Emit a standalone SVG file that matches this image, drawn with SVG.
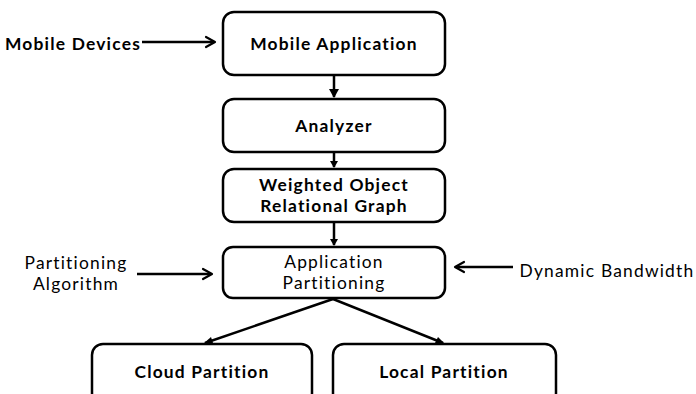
<svg xmlns="http://www.w3.org/2000/svg" width="696" height="394" viewBox="0 0 696 394">
<style>
.box{fill:#fff;stroke:#000;stroke-width:2.5}
.t{font-family:Lato,"Liberation Sans",sans-serif;font-size:17.4px;fill:#000;text-anchor:middle;letter-spacing:1.2px}
.b{font-weight:bold}
.ln{stroke:#000;stroke-width:2.5;fill:none}
.hd{stroke:#000;stroke-width:2.2;fill:none;stroke-linecap:round;stroke-linejoin:round}
</style>
<rect width="696" height="394" fill="#fff"/>
<g id="mobile-devices"><text class="t b" x="73" y="50">Mobile Devices</text></g>
<g id="mobile-application"><rect class="box" x="223" y="12" width="222" height="63" rx="11"/><text class="t b" x="334" y="50">Mobile Application</text></g>
<g id="analyzer"><rect class="box" x="223" y="99" width="222" height="53" rx="11"/><text class="t b" x="334" y="132">Analyzer</text></g>
<g id="worg"><rect class="box" x="223" y="169" width="222" height="53" rx="11"/><text class="t b" x="334" y="191">Weighted Object</text><text class="t b" x="334" y="212">Relational Graph</text></g>
<g id="partitioning-algorithm"><text class="t" x="76" y="269">Partitioning</text><text class="t" x="76" y="290">Algorithm</text></g>
<g id="application-partitioning"><rect class="box" x="223" y="247" width="222" height="51" rx="10"/><text class="t" x="334" y="268">Application</text><text class="t" x="334" y="289">Partitioning</text></g>
<g id="dynamic-bandwidth"><text class="t" x="607" y="277">Dynamic Bandwidth</text></g>
<g id="cloud-partition"><rect class="box" x="92" y="344" width="220" height="60" rx="11"/><text class="t b" x="202" y="378">Cloud Partition</text></g>
<g id="local-partition"><rect class="box" x="333" y="344" width="223" height="60" rx="11"/><text class="t b" x="444" y="378">Local Partition</text></g>
<g id="connectors">
<line class="ln" x1="142" y1="42" x2="214" y2="42"/><polyline class="hd" points="206,37 215,42 206,47"/>
<line class="ln" x1="334" y1="75" x2="334" y2="97"/><polygon points="329,89 339,89 334,98" fill="#000"/>
<line class="ln" x1="334" y1="152" x2="334" y2="167"/><polygon points="330,161 338,161 334,168" fill="#000"/>
<line class="ln" x1="334" y1="222" x2="334" y2="245"/><polygon points="330,239 338,239 334,246" fill="#000"/>
<line class="ln" x1="137" y1="274" x2="211" y2="274"/><polyline class="hd" points="203,269 212,274 203,279"/>
<line class="ln" x1="456" y1="267" x2="513" y2="267"/><polyline class="hd" points="464,262 455,267 464,272"/>
<line class="ln" x1="333" y1="299" x2="205" y2="343"/><polygon points="203,344 211,337 213,343" fill="#000"/>
<line class="ln" x1="333" y1="299" x2="443" y2="343"/><polygon points="445,344 435,343 438,337" fill="#000"/>
</g>
</svg>
